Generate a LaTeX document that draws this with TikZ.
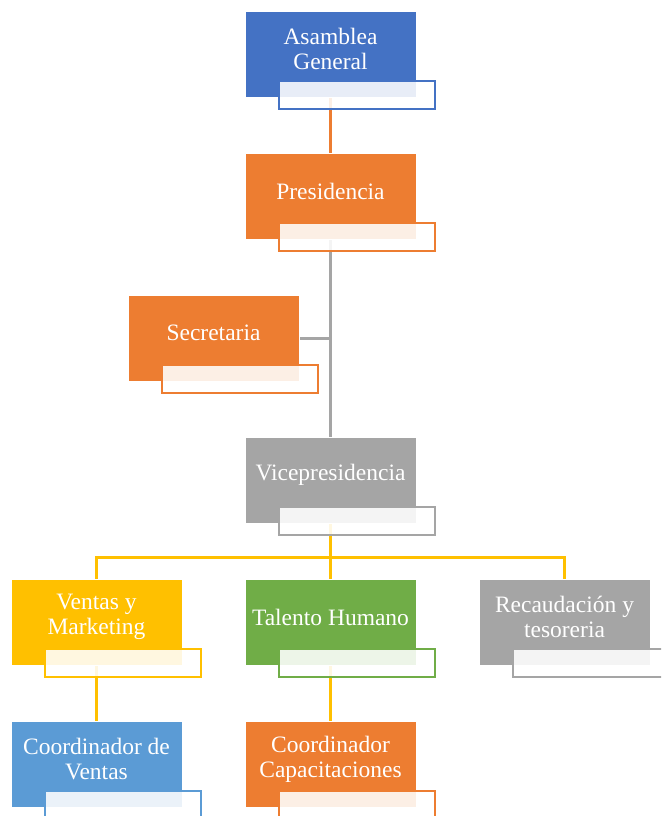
\documentclass[tikz,border=0pt]{standalone}
\usepackage{fontspec}
\setmainfont{Liberation Serif}
\usepackage{tikz}
\usetikzlibrary{calc,backgrounds}
\definecolor{orgblue}{HTML}{4472C4}
\definecolor{orgorange}{HTML}{ED7D31}
\definecolor{orggray}{HTML}{A5A5A5}
\definecolor{orgyellow}{HTML}{FFC000}
\definecolor{orggreen}{HTML}{70AD47}
\definecolor{orgsky}{HTML}{5B9BD5}
\tikzset{
  unit/.style = {rectangle, fill=#1, draw=white, line width=0.4pt, inner sep=0pt,
                 minimum width=171pt, minimum height=86pt},
  tag/.style  = {rectangle, draw=#1, fill=white, fill opacity=0.88, line width=2pt,
                 inner sep=0pt, minimum width=156pt, minimum height=28pt},
  txt/.style  = {text=white, align=center, font=\fontsize{23.5}{25}\selectfont},
  link/.style = {draw=#1, line width=2.5pt},
}

\begin{document}
\begin{tikzpicture}[x=1pt, y=-1pt]
  \path[use as bounding box] (0,0) rectangle (661,816);
  \clip (0,0) rectangle (661,816);

  \foreach \n/\x/\y/\c/\t in {
      asam/330.5/54.5/orgblue/{Asamblea\\General},
      pres/330.5/196.5/orgorange/{Presidencia},
      secr/213.5/338.5/orgorange/{Secretaria},
      vice/330.5/480.5/orggray/{Vicepresidencia},
      ventas/96.5/622.5/orgyellow/{Ventas y\\Marketing},
      talento/330.5/622.5/orggreen/{Talento Humano},
      recaud/564.5/622.5/orggray/{Recaudación y\\tesoreria},
      coordv/96.5/764.5/orgsky/{Coordinador de\\Ventas},
      coordc/330.5/764.5/orgorange/{Coordinador\\Capacitaciones}} {
    \node[unit=\c] (\n) at (\x,\y) {};
    \node[tag=\c] (\n-tag) at ([xshift=26.5, yshift=3]\n.south) {};
    \node[txt] (\n-txt) at ([yshift=5.5]\n.center) {\t};
  }

  \begin{scope}[on background layer]
    \draw[link=orgorange] (asam.south) -- (pres.north);
    \draw[link=orggray] (pres.south) -- (vice.north);
    \draw[link=orggray] (secr.east) -- (secr.east -| pres.south);
    \draw[link=orgyellow] (vice.south) -- ++(0,34) coordinate (split)
      -| (ventas.north) (split) -| (recaud.north) (split) -- (talento.north);
    \draw[link=orgyellow] (ventas.south) -- (coordv.north);
    \draw[link=orgyellow] (talento.south) -- (coordc.north);
  \end{scope}
\end{tikzpicture}
\end{document}
